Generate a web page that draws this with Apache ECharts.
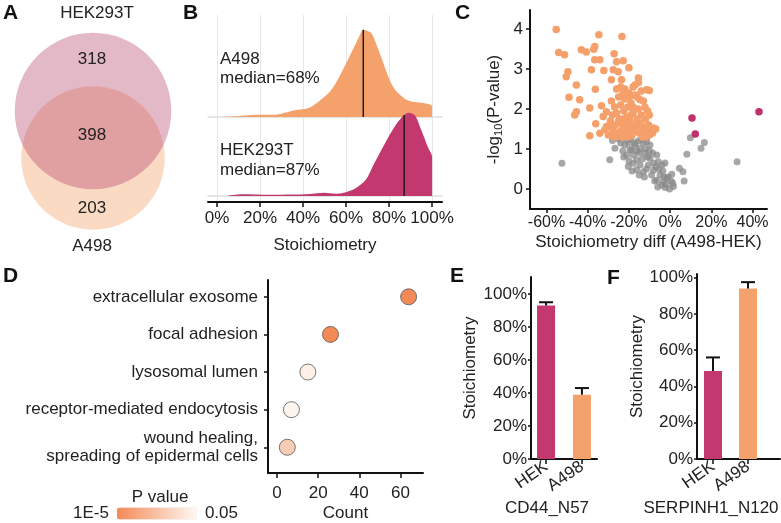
<!DOCTYPE html>
<html>
<head>
<meta charset="utf-8">
<script src="https://cdn.jsdelivr.net/npm/echarts@6/dist/echarts.min.js"></script>
<style>
  html, body { margin: 0; padding: 0; background: #fff; }
  #main { width: 781px; height: 523px; }
</style>
</head>
<body>
<div id="main"></div>
<script>
// ---- A: Venn counts ----
var vennOnlyHek = 318;
var vennBoth = 398;
var vennOnlyA498 = 203;

// ---- B: stoichiometry density (x %, relative height) ----
var densA498 = [[0,0],[5,1],[10,3],[18,7],[27,7],[36,20],[43,28],[48,50],[53,80],[58,135],[63,200],[66,240],[68,262],[70,258],[72,250],[76,185],[80,115],[83,80],[88,52],[92,45],[96,42],[100,32],[100,0]];
var densHek = [[5,0],[6,2],[13,5],[21,4],[30,4],[41,5],[50,10],[55,7],[59,10],[64,22],[69,47],[73,97],[78,157],[83,212],[86,237],[87,243],[89,250],[92,242],[95,197],[98,147],[100,117],[100,0]];
var medianA498 = 68;
var medianHek = 87;

// ---- C: volcano (diff %, -log10 p) ----
var grayPts = [[-52.5,0.64],[32.5,0.68],[9.8,1.28],[16.6,1.16],[15,1.02],[8.1,0.87],[4.5,0.52],[6.2,0.43],[6.8,0.2],
  [-28,1.21],[-26.8,1.02],[-29.3,0.73],[-21.1,1.23],[-19.5,0.98],[-21.1,0.85],[-17.9,0.64],[-20.3,0.56],[-16.3,0.48],
  [-17.1,1.14],[-14.6,1.02],[-9.8,1.1],[-11.4,1.18],[-17.1,1.1],[-18.7,0.98],[-12.2,0.89],[-16.3,0.73],[-17.9,0.85],
  [-14.6,0.6],[-9.8,0.77],[-6.5,0.85],[-5.7,0.68],[-10.6,0.6],[-13,0.43],[-8.1,0.47],[-4.9,0.35],[-6.5,0.22],[-4.1,0.1],
  [-2.4,0.04],[-0.3,0.0],[-3.3,0.18],[-1.6,0.27],[1.6,0.06],[0.8,0.37],[1.3,0.14],[-24,1.15],[-23,0.95],[-22,1.1],
  [-20,1.15],[-19,1.25],[-15.5,1.2],[-13,1.15],[-12,1.0],[-15,0.9],[-13.5,0.75],[-11,0.8],[-10,0.95],[-8,0.65],[-7,0.55],
  [-9,0.35],[-11.5,0.5],[-12.5,0.3],[-7.5,0.2],[-5.5,0.5],[-3.5,0.45],[-2,0.12],[-1,0.3],[0.5,0.2],[-18.5,0.45],[-15,0.35],
  [-6,0.05],[-3,0.3],[-16,0.95],[-20,0.7],[-22.5,0.8],[-25,1.25],[-14,1.25],[-11.5,1.28],[-8.5,0.9],[-4,0.6],[-2.5,0.65]];
var downPts = [[-55.3,3.98],[-54.1,3.41],[-51.2,3.35],[-49.6,2.93],[-50.4,2.8],[-45.5,2.6],[-49.1,2.29],[-43.9,2.23],
  [-45.5,1.93],[-46.3,1.85],[-43.1,3.48],[-40.7,3.42],[-37.1,3.49],[-36.6,3.56],[-34.6,3.85],[-36.6,3.23],[-34.1,3.23],
  [-38.2,2.98],[-32.2,2.96],[-36.3,2.49],[-39,2.02],[-36.1,1.63],[-39,1.33],[-34.1,1.39],[-27.2,3.38],[-23.4,3.81],
  [-26,3.18],[-22.8,3.2],[-20,3.03],[-27.6,2.98],[-25.2,2.93],[-28.5,2.73],[-23.6,2.73],[-15.4,2.77],[-15.4,2.66],
  [-17.1,2.6],[-11.4,2.48],[-10.1,2.46],[-22.8,2.39],[-19.5,2.31],[-14.6,2.23],[-33.3,2.08],[-30.9,1.93],[-32.5,1.81],
  [-10.1,1.85],[-12.2,2.04],[-8.1,1.52],[-30.9,1.56],[-31.7,1.48],
  [-28.5,2.2],[-27,2.05],[-26,1.9],[-25,2.3],[-24.5,1.75],[-24,2.1],[-23,1.6],[-22.5,1.95],[-22,2.25],[-21.5,1.45],
  [-21,1.8],[-20.5,2.05],[-20,1.55],[-19.5,1.7],[-19,2.15],[-18.5,1.35],[-18,1.9],[-17.5,1.6],[-17,2.35],[-16.5,1.45],
  [-16,1.75],[-15.5,2.0],[-15,1.4],[-14.5,1.65],[-14,1.85],[-13.5,1.3],[-13,2.2],[-12.5,1.55],[-12,1.75],[-11.5,1.4],
  [-11,1.95],[-10.5,1.6],[-10,1.35],[-9.5,1.5],[-8.5,1.4],[-7,1.5],[-27.5,1.45],[-26.5,1.6],[-25.5,1.35],[-24,1.45],
  [-23.5,1.3],[-22,1.35],[-20.5,1.3],[-19,1.4],[-26,2.5],[-24,2.55],[-22,2.5],[-20,2.4],[-18,2.55],[-16,2.3],[-14,2.45],
  [-29,1.7],[-28,1.85],[-23,1.75],[-21,1.65],[-19,1.85],[-17,1.5],[-15,1.6],[-13,1.5],[-12,1.3],[-18,2.05],[-25,1.7],
  [-27,1.3],[-30,1.35],[-29.5,1.55]];
var upPts = [[10.6,1.77],[12.2,1.37],[43.1,1.93]];
var diffTicks = [-60, -40, -20, 0, 20, 40];

// ---- D: GO terms ----
var goTerms = ['extracellular exosome', 'focal adhesion', 'lysosomal lumen', 'receptor-mediated endocytosis', 'wound healing,\nspreading of epidermal cells'];
var goCounts = [64, 26, 15, 7, 5];
var goPValues = [0.0005, 0.00001, 0.046, 0.048, 0.03];

// ---- E / F: stoichiometry bars ----
var cellLines = ['HEK', 'A498'];
var cd44Values = [93, 39];
var cd44Err = [2, 4];
var serpValues = [48.5, 94];
var serpErr = [7.5, 3.5];

var FONT = 'Liberation Sans, Arial, sans-serif';
var HEK_COLOR = '#c2386f';
var A498_COLOR = '#f5a16b';
var pctTicks = [0, 20, 40, 60, 80, 100];

var chart = echarts.init(document.getElementById('main'));

function heightAt(dens, x) {
  for (var i = 0; i < dens.length; i++) if (dens[i][0] === x) return dens[i][1];
  return 0;
}

function errBar(params, api) {
  var x = api.value(0), v = api.value(1), e = api.value(2);
  var p0 = api.coord([x, v]);
  var p1 = api.coord([x, v + e]);
  var st = { stroke: '#111', lineWidth: 2 };
  return {
    type: 'group',
    children: [
      { type: 'line', shape: { x1: p0[0], y1: p0[1], x2: p1[0], y2: p1[1] }, style: st },
      { type: 'line', shape: { x1: p1[0] - 7, y1: p1[1], x2: p1[0] + 7, y2: p1[1] }, style: st }
    ]
  };
}

var lbl = { fontSize: 17, color: '#222', fontFamily: FONT };
var blackLine = { show: true, onZero: false, lineStyle: { color: '#111', width: 2 } };
var hid = { show: false };

function text(t, x, y, extra) {
  var s = { text: t, font: '17px ' + FONT, fill: '#222', textAlign: 'left', textVerticalAlign: 'middle' };
  for (var k in (extra || {})) s[k] = extra[k];
  return { type: 'text', x: x, y: y, z: 100, style: s, silent: true };
}
function letter(t, x, y) {
  return text(t, x, y, { font: 'bold 21px ' + FONT, fill: '#111', textVerticalAlign: 'top' });
}

var pctFmt = function (v) { return v + '%'; };

chart.setOption({
  animation: false,
  textStyle: { fontFamily: FONT },
  grid: [
    { left: 217, top: 15, width: 215, height: 187 },   // 0 B gridlines
    { left: 208, top: 15, width: 234, height: 102 },   // 1 B top ridge
    { left: 208, top: 100, width: 234, height: 96 },   // 2 B bottom ridge
    { left: 208, top: 150, width: 234, height: 52 },   // 3 B axis
    { left: 530, top: 10, width: 237, height: 199 },   // 4 C
    { left: 268, top: 280, width: 155, height: 195 },  // 5 D
    { left: 531, top: 277, width: 66, height: 182 },   // 6 E
    { left: 697, top: 274, width: 83, height: 185 },   // 7 F
    { left: 0, top: 17, width: 186, height: 235 }      // 8 Venn
  ],
  xAxis: [
    { gridIndex: 0, type: 'value', min: 0, max: 100, interval: 20, axisLine: hid, axisTick: hid, axisLabel: hid,
      splitLine: { show: true, lineStyle: { color: '#e6e6e6', width: 1 } } },
    { gridIndex: 1, type: 'value', min: -4.2, max: 104.6, axisLine: { show: true, onZero: false, lineStyle: { color: '#dedede', width: 1.5 } },
      axisTick: hid, axisLabel: hid, splitLine: hid },
    { gridIndex: 2, type: 'value', min: -4.2, max: 104.6, axisLine: { show: true, onZero: false, lineStyle: { color: '#dedede', width: 1.5 } },
      axisTick: hid, axisLabel: hid, splitLine: hid },
    { gridIndex: 3, type: 'value', min: -4.2, max: 104.6, axisLine: blackLine, splitLine: hid,
      axisTick: { show: true, customValues: pctTicks, length: 5, lineStyle: { color: '#111', width: 1.5 } },
      axisLabel: { customValues: pctTicks, formatter: pctFmt, margin: 8, fontSize: 17, color: '#222', showMinLabel: true, showMaxLabel: true },
      name: 'Stoichiometry', nameLocation: 'middle', nameGap: 35, nameTextStyle: lbl },
    { gridIndex: 4, type: 'value', min: -68, max: 47, axisLine: blackLine, splitLine: hid,
      axisTick: { show: true, customValues: diffTicks, length: 4, lineStyle: { color: '#111', width: 1.5 } },
      axisLabel: { customValues: diffTicks, formatter: pctFmt, interval: 0, margin: 6, fontSize: 16, color: '#222',
        showMinLabel: true, showMaxLabel: true, hideOverlap: false },
      name: 'Stoichiometry diff (A498-HEK)', nameLocation: 'middle', nameGap: 25, nameTextStyle: lbl },
    { gridIndex: 5, type: 'value', min: -4.4, max: 71, axisLine: blackLine, splitLine: hid,
      axisTick: { show: true, customValues: [0, 20, 40, 60], length: 5, lineStyle: { color: '#111', width: 1.5 } },
      axisLabel: { customValues: [0, 20, 40, 60], margin: 12, fontSize: 17, color: '#222' },
      name: 'Count', nameLocation: 'middle', nameGap: 32, nameTextStyle: lbl },
    { gridIndex: 6, type: 'value', min: -0.42, max: 1.42, axisLine: blackLine, splitLine: hid,
      axisTick: { show: true, customValues: [0, 1], length: 5, lineStyle: { color: '#111', width: 1.5 } },
      axisLabel: { customValues: [0, 1], formatter: function (v) { return cellLines[v]; }, rotate: 35, margin: 6, fontSize: 17, color: '#222' } },
    { gridIndex: 7, type: 'value', min: -0.457, max: 1.914, axisLine: blackLine, splitLine: hid,
      axisTick: { show: true, customValues: [0, 1], length: 5, lineStyle: { color: '#111', width: 1.5 } },
      axisLabel: { customValues: [0, 1], formatter: function (v) { return cellLines[v]; }, rotate: 35, margin: 6, fontSize: 17, color: '#222' } },
    { gridIndex: 8, type: 'value', min: -1, max: 1, show: false }
  ],
  yAxis: [
    { gridIndex: 0, type: 'value', min: 0, max: 1, show: false },
    { gridIndex: 1, type: 'value', min: 0, max: 306, show: false },
    { gridIndex: 2, type: 'value', min: 0, max: 288, show: false },
    { gridIndex: 3, type: 'value', min: 0, max: 1, show: false },
    { gridIndex: 4, type: 'value', min: -0.5, max: 4.47, axisLine: blackLine, splitLine: hid,
      axisTick: { show: true, customValues: [0, 1, 2, 3, 4], length: 4, lineStyle: { color: '#111', width: 1.5 } },
      axisLabel: { customValues: [0, 1, 2, 3, 4], margin: 7, fontSize: 17, color: '#222' },
      name: '{a|-log}{s|10}{a|(P-value)}', nameLocation: 'middle', nameGap: 26, nameRotate: 90,
      nameTextStyle: { rich: { a: { fontSize: 17, color: '#222', fontFamily: FONT }, s: { fontSize: 11, color: '#222', fontFamily: FONT, padding: [8, 0, 0, 0] } } } },
    { gridIndex: 5, type: 'value', inverse: true, min: -0.447, max: 4.684, axisLine: blackLine, splitLine: hid,
      axisTick: { show: true, customValues: [0, 1, 2, 3, 4], length: 4, lineStyle: { color: '#111', width: 1.5 } },
      axisLabel: { customValues: [0, 1, 2, 3, 4], formatter: function (v) { return goTerms[v]; }, margin: 10, fontSize: 17, lineHeight: 18, color: '#222', align: 'right' } },
    { gridIndex: 6, type: 'value', min: 0, max: 110.3, axisLine: blackLine, splitLine: hid,
      axisTick: { show: true, customValues: pctTicks, length: 3, lineStyle: { color: '#111', width: 1.5 } },
      axisLabel: { customValues: pctTicks, formatter: pctFmt, margin: 4, fontSize: 17, color: '#222' },
      name: 'Stoichiometry', nameLocation: 'middle', nameGap: 52, nameTextStyle: lbl },
    { gridIndex: 7, type: 'value', min: 0, max: 102, axisLine: blackLine, splitLine: hid,
      axisTick: { show: true, customValues: pctTicks, length: 3, lineStyle: { color: '#111', width: 1.5 } },
      axisLabel: { customValues: pctTicks, formatter: pctFmt, margin: 4, fontSize: 17, color: '#222' },
      name: 'Stoichiometry', nameLocation: 'middle', nameGap: 50, nameTextStyle: lbl },
    { gridIndex: 8, type: 'value', min: -2, max: 3, inverse: true, show: false }
  ],
  visualMap: {
    type: 'continuous', seriesIndex: 7, dimension: 2, min: 0.00001, max: 0.05,
    orient: 'horizontal', left: 58, top: 490, itemWidth: 12, itemHeight: 80,
    text: ['0.05', '1E-5'], textGap: 8, calculable: false, realtime: false,
    textStyle: { fontSize: 17, color: '#222', fontFamily: FONT },
    inRange: { color: ['#f28a55', '#fff8f4'] }
  },
  series: [
    { type: 'line', xAxisIndex: 1, yAxisIndex: 1, data: densA498, smooth: 0.3, symbol: 'none', z: 2,
      lineStyle: { width: 0 }, areaStyle: { color: A498_COLOR, opacity: 1 } },
    { type: 'line', xAxisIndex: 2, yAxisIndex: 2, data: densHek, smooth: 0.3, symbol: 'none', z: 3,
      lineStyle: { width: 0 }, areaStyle: { color: HEK_COLOR, opacity: 1 } },
    { type: 'line', xAxisIndex: 1, yAxisIndex: 1, symbol: 'none', z: 4, lineStyle: { color: '#2a1a1a', width: 1.5 },
      data: [[medianA498, 0], [medianA498, heightAt(densA498, medianA498)]] },
    { type: 'line', xAxisIndex: 2, yAxisIndex: 2, symbol: 'none', z: 4, lineStyle: { color: '#2a1a1a', width: 1.5 },
      data: [[medianHek, 0], [medianHek, heightAt(densHek, medianHek)]] },
    { type: 'scatter', xAxisIndex: 4, yAxisIndex: 4, data: grayPts, symbolSize: 7,
      itemStyle: { color: '#8a8a8a', opacity: 0.75 } },
    { type: 'scatter', xAxisIndex: 4, yAxisIndex: 4, data: downPts, symbolSize: 7.5,
      itemStyle: { color: '#f5a06a', opacity: 1 } },
    { type: 'scatter', xAxisIndex: 4, yAxisIndex: 4, data: upPts, symbolSize: 7.5,
      itemStyle: { color: '#c2306c', opacity: 1 } },
    { type: 'scatter', xAxisIndex: 5, yAxisIndex: 5, symbolSize: 16,
      itemStyle: { borderColor: '#555', borderWidth: 0.8, opacity: 1 },
      data: goCounts.map(function (c, i) { return [c, i, goPValues[i]]; }) },
    { type: 'bar', xAxisIndex: 6, yAxisIndex: 6, barWidth: 18,
      data: cd44Values.map(function (v, i) { return { value: [i, v], itemStyle: { color: i ? A498_COLOR : HEK_COLOR } }; }) },
    { type: 'custom', xAxisIndex: 6, yAxisIndex: 6, renderItem: errBar, z: 5,
      data: cd44Values.map(function (v, i) { return [i, v, cd44Err[i]]; }) },
    { type: 'bar', xAxisIndex: 7, yAxisIndex: 7, barWidth: 18,
      data: serpValues.map(function (v, i) { return { value: [i, v], itemStyle: { color: i ? A498_COLOR : HEK_COLOR } }; }) },
    { type: 'custom', xAxisIndex: 7, yAxisIndex: 7, renderItem: errBar, z: 5,
      data: serpValues.map(function (v, i) { return [i, v, serpErr[i]]; }) },
    { type: 'scatter', xAxisIndex: 8, yAxisIndex: 8, silent: true, z: 1,
      data: [
        { value: [0, 1], symbolSize: 5.85 * Math.sqrt(vennBoth + vennOnlyA498), itemStyle: { color: 'rgba(245,163,108,0.5)' } },
        { value: [0, 0], symbolSize: 5.85 * Math.sqrt(vennBoth + vennOnlyHek), itemStyle: { color: 'rgba(178,57,99,0.45)' } }
      ] }
  ],
  graphic: [
    letter('A', 3, 3), letter('B', 183, 3), letter('C', 455, 3),
    letter('D', 3, 266), letter('E', 450, 266), letter('F', 607, 268),
    text('HEK293T', 97, 13, { textAlign: 'center' }),
    text(String(vennOnlyHek), 92, 59, { textAlign: 'center' }),
    text(String(vennBoth), 92, 135, { textAlign: 'center' }),
    text(String(vennOnlyA498), 92, 208, { textAlign: 'center' }),
    text('A498', 92, 246, { textAlign: 'center' }),
    text('A498', 220, 59), text('median=' + medianA498 + '%', 220, 78),
    text('HEK293T', 220, 150), text('median=' + medianHek + '%', 220, 170),
    text('P value', 160, 497, { textAlign: 'center' }),
    text('CD44_N57', 547, 508, { textAlign: 'center' }),
    text('SERPINH1_N120', 711, 508, { textAlign: 'center' })
  ]
});
</script>
</body>
</html>
